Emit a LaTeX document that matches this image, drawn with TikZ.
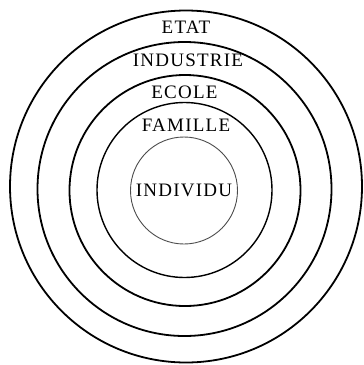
\documentclass[tikz,border=0pt]{standalone}
\usepackage{fontspec}
\setmainfont{Liberation Serif}[LetterSpace=6.5]
\usepackage{tikz}

\begin{document}
\begin{tikzpicture}[x=1pt,y=-1pt,
	ring/.style={draw=black, line width=1.8pt},
	lbl/.style={anchor=base, inner sep=0pt, text=black, font=\fontsize{19}{21}\selectfont}]
	\useasboundingbox (0,0) rectangle (364,365);
	% cercles
	\draw[ring] (186,186.5) circle (176);
	\draw[ring] (184.5,189) circle (147);
	\draw[ring] (185,190.5) circle (115.5);
	\draw[ring, line width=1.4pt] (184.5,190) circle (87.5);
	\draw[draw=black!70, line width=0.9pt] (184,190.5) circle (53.5);
	% textes
	\node[lbl] (etat) at (186,33.3) {ETAT};
	\node[lbl] (industrie) at (188,66.7) {INDUSTRIE};
	\node[lbl] (ecole) at (184.5,98.3) {ECOLE};
	\node[lbl] (famille) at (186,131.7) {FAMILLE};
	\node[lbl] (individu) at (184,196) {INDIVIDU};
\end{tikzpicture}
\end{document}
